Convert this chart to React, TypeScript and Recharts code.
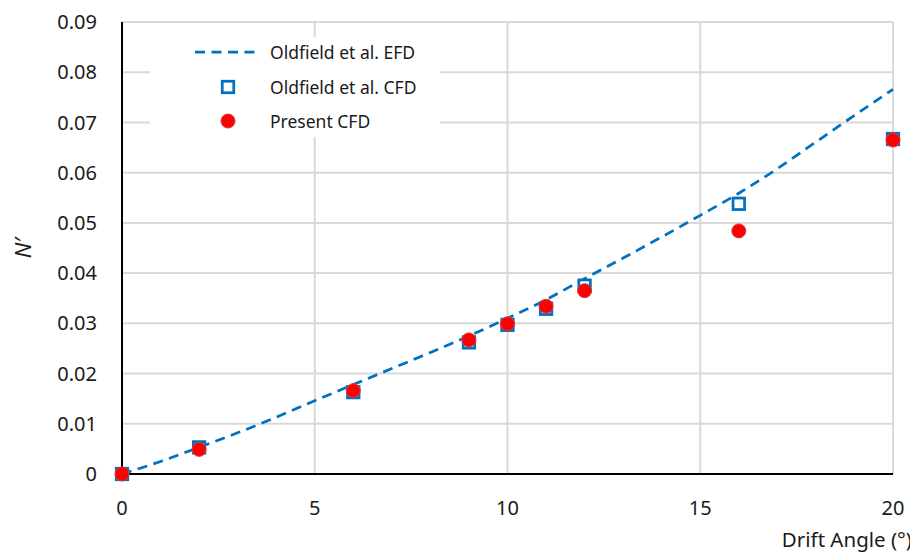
import React from "react";
import {
  ComposedChart,
  Line,
  Scatter,
  XAxis,
  YAxis,
  CartesianGrid,
  Legend,
  Label,
} from "recharts";

// Oldfield et al. EFD (dashed curve)
const efdAngles = [0, 1, 2, 3, 4, 5, 6, 7, 8, 9, 10, 11, 12, 13, 14, 15, 16, 17, 18, 19, 20];
const efdValues = [
  0, 0.0025, 0.0053, 0.0082, 0.0113, 0.0146, 0.0178, 0.021, 0.0242, 0.0275, 0.031,
  0.0347, 0.0389, 0.043, 0.0472, 0.0515, 0.0559, 0.0608, 0.0661, 0.0714, 0.0766,
];

// CFD drift angles
const cfdAngles = [0, 2, 6, 9, 10, 11, 12, 16, 20];
const oldfieldCfd = [0, 0.0053, 0.0163, 0.0262, 0.0297, 0.0329, 0.0375, 0.0538, 0.0667];
const presentCfd = [0, 0.0049, 0.0166, 0.0267, 0.0299, 0.0334, 0.0365, 0.0484, 0.0665];

const xTicks = [0, 5, 10, 15, 20];
const yTicks = [0, 0.01, 0.02, 0.03, 0.04, 0.05, 0.06, 0.07, 0.08, 0.09];

const seriesNames = ["Oldfield et al. EFD", "Oldfield et al. CFD", "Present CFD"];

const efdData = efdAngles.map((x, i) => ({ x, y: efdValues[i] }));
const oldfieldData = cfdAngles.map((x, i) => ({ x, y: oldfieldCfd[i] }));
const presentData = cfdAngles.map((x, i) => ({ x, y: presentCfd[i] }));

const BLUE = "#0070C0";
const RED = "#FF0000";
const TEXT = "#1a1a1a";
const FONT = "'Noto Sans', sans-serif";

const SquareShape = (props: any) => {
  const { cx, cy } = props;
  if (cx == null || cy == null) return null;
  const s = 11.5;
  return (
    <rect
      x={cx - s / 2}
      y={cy - s / 2}
      width={s}
      height={s}
      fill="#ffffff"
      stroke={BLUE}
      strokeWidth={2.75}
    />
  );
};

const CircleShape = (props: any) => {
  const { cx, cy } = props;
  if (cx == null || cy == null) return null;
  return <circle cx={cx} cy={cy} r={7} fill={RED} stroke="#D83B3B" strokeWidth={1} />;
};

const LegendBox = () => (
  <div style={{ background: "#ffffff", width: 290, height: 100 }}>
    <svg width={290} height={100} style={{ display: "block" }}>
      <line x1={45} y1={15} x2={110} y2={15} stroke={BLUE} strokeWidth={2.75} strokeDasharray="10 6.5" />
      <rect x={72.25} y={44.25} width={11.5} height={11.5} fill="#ffffff" stroke={BLUE} strokeWidth={2.75} />
      <circle cx={78} cy={84} r={7} fill={RED} stroke="#D83B3B" strokeWidth={1} />
      {seriesNames.map((n, i) => (
        <text
          key={n}
          x={120}
          y={[15, 50, 84][i]}
          dominantBaseline="central"
          fontFamily={FONT}
          fontSize={17.5}
          fill={TEXT}
        >
          {n}
        </text>
      ))}
    </svg>
  </div>
);

export default function App() {
  return (
    <ComposedChart
      width={910}
      height={551}
      margin={{ top: 14, right: 25, bottom: 25, left: 0 }}
      style={{ fontFamily: FONT }}
    >
      <CartesianGrid stroke="#d9d9d9" strokeWidth={2} vertical={true} horizontal={true} />
      <XAxis
        dataKey="x"
        type="number"
        domain={[0, 20]}
        ticks={xTicks}
        tickLine={false}
        tickMargin={21}
        axisLine={{ stroke: "#000", strokeWidth: 2 }}
        tick={{ fill: TEXT, fontSize: 20, fontFamily: FONT }}
        height={60}
      >
        <Label
          content={(p: any) => {
            const vb = p.viewBox || {};
            return (
              <text
                x={vb.x + vb.width + 19}
                y={vb.y + 65}
                textAnchor="end"
                dominantBaseline="central"
                fontFamily={FONT}
                fontSize={20.5}
                fill={TEXT}
              >
                Drift Angle (°)
              </text>
            );
          }}
        />
      </XAxis>
      <XAxis
        xAxisId="top"
        orientation="top"
        type="number"
        domain={[0, 20]}
        tick={false}
        tickLine={false}
        axisLine={{ stroke: "#000", strokeWidth: 2 }}
        height={0}
      />
      <YAxis
        dataKey="y"
        type="number"
        domain={[0, 0.09]}
        ticks={yTicks}
        tickLine={false}
        tickMargin={19}
        width={114}
        axisLine={{ stroke: "#000", strokeWidth: 2 }}
        tick={{ fill: TEXT, fontSize: 20, fontFamily: FONT }}
        tickFormatter={(v: number) => (v === 0 ? "0" : v.toFixed(2))}
      >
        <Label
          content={(p: any) => {
            const vb = p.viewBox || {};
            const cx = 14;
            const cy = vb.y + vb.height / 2;
            return (
              <text
                x={cx}
                y={cy}
                transform={`rotate(-90, ${cx}, ${cy})`}
                textAnchor="middle"
                dominantBaseline="central"
                fontFamily={FONT}
                fontSize={22}
                fontStyle="italic"
                fill={TEXT}
              >
                N′
              </text>
            );
          }}
        />
      </YAxis>
      <YAxis
        yAxisId="right"
        orientation="right"
        type="number"
        domain={[0, 0.09]}
        tick={false}
        tickLine={false}
        axisLine={{ stroke: "#000", strokeWidth: 2 }}
        width={0}
      />
      <Legend
        layout="vertical"
        align="center"
        verticalAlign="middle"
        content={() => <LegendBox />}
        wrapperStyle={{ left: 142, top: 29, width: 290, height: 100 }}
      />
      <Line
        data={efdData}
        dataKey="y"
        name={seriesNames[0]}
        type="monotone"
        stroke={BLUE}
        strokeWidth={2.75}
        strokeDasharray="10 6.5"
        dot={false}
        activeDot={false}
        isAnimationActive={false}
      />
      <Scatter
        data={oldfieldData}
        dataKey="y"
        name={seriesNames[1]}
        shape={SquareShape}
        isAnimationActive={false}
      />
      <Scatter
        data={presentData}
        dataKey="y"
        name={seriesNames[2]}
        shape={CircleShape}
        isAnimationActive={false}
      />
    </ComposedChart>
  );
}
